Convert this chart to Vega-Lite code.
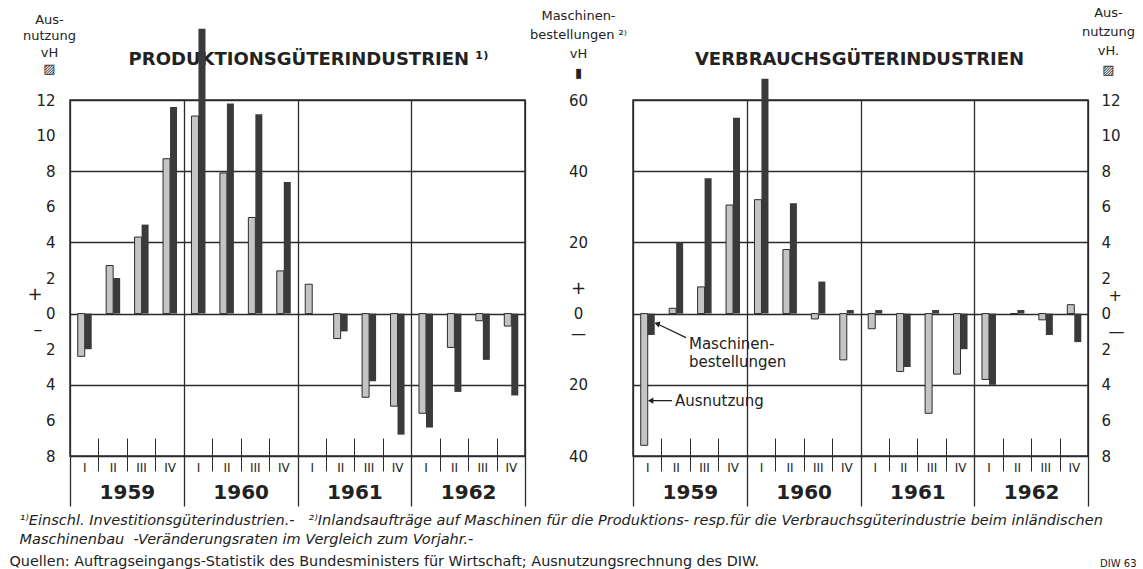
{
  "$schema": "https://vega.github.io/schema/vega-lite/v6.json",
  "background": "#ffffff",
  "padding": {"left": 8, "top": 5, "right": 0, "bottom": 0},
  "datasets": {
    "prod": [
      {"Zeit": 1959.125, "Ausnutzung": -2.4, "Maschinenbestellungen": -10},
      {"Zeit": 1959.375, "Ausnutzung": 2.7, "Maschinenbestellungen": 10},
      {"Zeit": 1959.625, "Ausnutzung": 4.3, "Maschinenbestellungen": 25},
      {"Zeit": 1959.875, "Ausnutzung": 8.7, "Maschinenbestellungen": 58},
      {"Zeit": 1960.125, "Ausnutzung": 11.1, "Maschinenbestellungen": 80},
      {"Zeit": 1960.375, "Ausnutzung": 7.9, "Maschinenbestellungen": 59},
      {"Zeit": 1960.625, "Ausnutzung": 5.4, "Maschinenbestellungen": 56},
      {"Zeit": 1960.875, "Ausnutzung": 2.4, "Maschinenbestellungen": 37},
      {"Zeit": 1961.125, "Ausnutzung": 1.65, "Maschinenbestellungen": 0},
      {"Zeit": 1961.375, "Ausnutzung": -1.4, "Maschinenbestellungen": -5},
      {"Zeit": 1961.625, "Ausnutzung": -4.7, "Maschinenbestellungen": -19},
      {"Zeit": 1961.875, "Ausnutzung": -5.2, "Maschinenbestellungen": -34},
      {"Zeit": 1962.125, "Ausnutzung": -5.6, "Maschinenbestellungen": -32},
      {"Zeit": 1962.375, "Ausnutzung": -1.9, "Maschinenbestellungen": -22},
      {"Zeit": 1962.625, "Ausnutzung": -0.4, "Maschinenbestellungen": -13},
      {"Zeit": 1962.875, "Ausnutzung": -0.7, "Maschinenbestellungen": -23}
    ],
    "verb": [
      {"Zeit": 1959.125, "Ausnutzung": -7.4, "Maschinenbestellungen": -6},
      {"Zeit": 1959.375, "Ausnutzung": 0.3, "Maschinenbestellungen": 20},
      {"Zeit": 1959.625, "Ausnutzung": 1.5, "Maschinenbestellungen": 38},
      {"Zeit": 1959.875, "Ausnutzung": 6.1, "Maschinenbestellungen": 55},
      {"Zeit": 1960.125, "Ausnutzung": 6.4, "Maschinenbestellungen": 66},
      {"Zeit": 1960.375, "Ausnutzung": 3.6, "Maschinenbestellungen": 31},
      {"Zeit": 1960.625, "Ausnutzung": -0.3, "Maschinenbestellungen": 9},
      {"Zeit": 1960.875, "Ausnutzung": -2.6, "Maschinenbestellungen": 1},
      {"Zeit": 1961.125, "Ausnutzung": -0.85, "Maschinenbestellungen": 1},
      {"Zeit": 1961.375, "Ausnutzung": -3.25, "Maschinenbestellungen": -15},
      {"Zeit": 1961.625, "Ausnutzung": -5.6, "Maschinenbestellungen": 1},
      {"Zeit": 1961.875, "Ausnutzung": -3.4, "Maschinenbestellungen": -10},
      {"Zeit": 1962.125, "Ausnutzung": -3.7, "Maschinenbestellungen": -20},
      {"Zeit": 1962.375, "Ausnutzung": 0, "Maschinenbestellungen": 1},
      {"Zeit": 1962.625, "Ausnutzung": -0.35, "Maschinenbestellungen": -6},
      {"Zeit": 1962.875, "Ausnutzung": 0.5, "Maschinenbestellungen": -8}
    ]
  },
  "spacing": 108,
  "bounds": "flush",
  "hconcat": [
    {
      "width": 455,
      "height": 356,
      "data": {"name": "prod"},
      "layer": [
        {
          "mark": {"type": "bar", "width": 7, "xOffset": -3, "fill": "#c4c4c4", "stroke": "#2b2b2b", "strokeWidth": 1},
          "encoding": {
            "x": {"field": "Zeit", "type": "quantitative", "scale": {"domain": [1959, 1963], "nice": false, "zero": false, "padding": 0},
              "axis": {"orient": "bottom", "values": [1959.125, 1959.375, 1959.625, 1959.875, 1960.125, 1960.375, 1960.625, 1960.875, 1961.125, 1961.375, 1961.625, 1961.875, 1962.125, 1962.375, 1962.625, 1962.875],
                "labelExpr": "['I','II','III','IV'][floor((datum.value % 1) * 4)]", "ticks": false, "tickSize": 0, "domain": false, "grid": false, "labelFontSize": 12, "labelPadding": 6, "labelFlush": false, "labelOverlap": false, "title": null}},
            "y": {"field": "Ausnutzung", "type": "quantitative", "scale": {"domain": [-8, 12], "nice": false, "zero": true},
              "axis": {"orient": "left", "values": [-8, -6, -4, -2, 0, 2, 4, 6, 8, 10, 12, 1.1, -0.9],
                "labelExpr": "datum.value == 1.1 ? '+' : datum.value == -0.9 ? '–' : format(abs(datum.value), 'd')",
                "ticks": false, "tickSize": 0, "domain": false, "grid": true, "gridColor": "#2b2b2b", "gridWidth": 1.3,
                "gridOpacity": {"condition": {"test": "datum.value % 4 === 0", "value": 1}, "value": 0},
                "labelPadding": {"condition": {"test": "datum.value == 1.1 || datum.value == -0.9", "value": 28}, "value": 15},
                "labelFontSize": {"condition": {"test": "datum.value == 1.1 || datum.value == -0.9", "value": 18}, "value": 15},
                "labelOverlap": false, "labelFlush": false,
                "title": ["Aus-", "nutzung", "vH", "▨"], "titleAngle": 0, "titleX": -21, "titleY": -87, "titleAlign": "center", "titleBaseline": "top", "titleFontSize": 13, "titleFontWeight": "normal", "titleLineHeight": 16.5}}
          }
        },
        {
          "mark": {"type": "bar", "width": 7, "xOffset": 4, "fill": "#3a3a3a"},
          "encoding": {
            "x": {"field": "Zeit", "type": "quantitative", "scale": {"domain": [1959, 1963], "nice": false, "zero": false, "padding": 0},
              "axis": {"orient": "bottom", "values": [1959.25, 1959.5, 1959.75, 1960.25, 1960.5, 1960.75, 1961.25, 1961.5, 1961.75, 1962.25, 1962.5, 1962.75],
                "labels": false, "domain": false, "grid": false, "ticks": true, "tickSize": 33, "offset": -18, "tickColor": "#2b2b2b", "tickWidth": 1,
                "title": "PRODUKTIONSGÜTERINDUSTRIEN ¹⁾", "titleX": 238, "titleY": -374, "titleAlign": "center", "titleBaseline": "alphabetic", "titleFontSize": 18, "titleFontWeight": "bold", "titleLimit": 600}},
            "y": {"field": "Maschinenbestellungen", "type": "quantitative", "scale": {"domain": [-40, 60], "nice": false, "zero": true}, "axis": null}
          }
        },
        {
          "mark": {"type": "rule", "strokeOpacity": 0},
          "encoding": {
            "x": {"field": "Zeit", "type": "quantitative", "scale": {"domain": [1959, 1963], "nice": false, "zero": false, "padding": 0},
              "axis": {"orient": "bottom", "values": [1959, 1960, 1961, 1962, 1963], "labels": false, "domain": false, "grid": true, "gridColor": "#2b2b2b", "gridWidth": 1.3, "ticks": true, "tickSize": 50, "tickColor": "#2b2b2b", "tickWidth": 1.3,
                "title": "Quellen: Auftragseingangs-Statistik des Bundesministers für Wirtschaft; Ausnutzungsrechnung des DIW.", "titleX": -61, "titleY": 98, "titleAlign": "left", "titleBaseline": "top", "titleFontSize": 14.4, "titleFontWeight": "normal", "titleLimit": 1200}}
          }
        },
        {
          "mark": {"type": "rule", "strokeOpacity": 0},
          "encoding": {
            "x": {"field": "Zeit", "type": "quantitative", "scale": {"domain": [1959, 1963], "nice": false, "zero": false, "padding": 0},
              "axis": {"orient": "bottom", "values": [1959.5, 1960.5, 1961.5, 1962.5], "labelExpr": "format(floor(datum.value), 'd')", "ticks": false, "tickSize": 0, "domain": false, "grid": false, "labelFontSize": 20, "labelFontWeight": "bold", "labelPadding": 26, "labelFlush": false, "labelOverlap": false,
                "title": ["¹⁾Einschl. Investitionsgüterindustrien.-\u00a0\u00a0\u00a0²⁾Inlandsaufträge auf Maschinen für die Produktions- resp.für die Verbrauchsgüterindustrie beim inländischen", "\u00a0\u00a0Maschinenbau\u00a0\u00a0-Veränderungsraten im Vergleich zum Vorjahr.-"],
                "titleX": -51, "titleY": 57, "titleAlign": "left", "titleBaseline": "top", "titleFontSize": 14.5, "titleFontStyle": "italic", "titleFontWeight": "normal", "titleLineHeight": 19, "titleLimit": 1200}}
          }
        }
      ],
      "resolve": {"scale": {"y": "independent"}, "axis": {"x": "independent", "y": "independent"}}
    },
    {
      "width": 455,
      "height": 356,
      "data": {"name": "verb"},
      "layer": [
        {
          "mark": {"type": "bar", "width": 7, "xOffset": -3, "fill": "#c4c4c4", "stroke": "#2b2b2b", "strokeWidth": 1},
          "encoding": {
            "x": {"field": "Zeit", "type": "quantitative", "scale": {"domain": [1959, 1963], "nice": false, "zero": false, "padding": 0},
              "axis": {"orient": "bottom", "values": [1959.125, 1959.375, 1959.625, 1959.875, 1960.125, 1960.375, 1960.625, 1960.875, 1961.125, 1961.375, 1961.625, 1961.875, 1962.125, 1962.375, 1962.625, 1962.875],
                "labelExpr": "['I','II','III','IV'][floor((datum.value % 1) * 4)]", "ticks": false, "tickSize": 0, "domain": false, "grid": false, "labelFontSize": 12, "labelPadding": 6, "labelFlush": false, "labelOverlap": false, "title": null}},
            "y": {"field": "Ausnutzung", "type": "quantitative", "scale": {"domain": [-8, 12], "nice": false, "zero": true},
              "axis": {"orient": "right", "values": [-8, -6, -4, -2, 0, 2, 4, 6, 8, 10, 12, 1.0, -1.0],
                "labelExpr": "datum.value == 1 ? '+' : datum.value == -1 ? '—' : format(abs(datum.value), 'd')",
                "ticks": false, "tickSize": 0, "domain": false, "grid": true, "gridColor": "#2b2b2b", "gridWidth": 1.3,
                "gridOpacity": {"condition": {"test": "datum.value % 4 === 0", "value": 1}, "value": 0},
                "labelPadding": {"condition": {"test": "datum.value == 1 || datum.value == -1", "value": 20}, "value": 13},
                "labelFontSize": {"condition": {"test": "datum.value == 1 || datum.value == -1", "value": 16}, "value": 15},
                "labelAlign": "left", "labelOverlap": false, "labelFlush": false,
                "title": ["Aus-", "nutzung", "vH.", "▨"], "titleAngle": 0, "titleX": 20, "titleY": -94, "titleAlign": "center", "titleBaseline": "top", "titleFontSize": 13, "titleFontWeight": "normal", "titleLineHeight": 19}}
          }
        },
        {
          "data": {"values": [{}]},
          "mark": {"type": "text", "align": "left", "baseline": "top", "fontSize": 15, "lineHeight": 18, "font": "DejaVu Sans", "color": "#222222"},
          "encoding": {
            "x": {"datum": 1959.492, "type": "quantitative", "axis": null},
            "y": {"datum": -1.29, "type": "quantitative", "scale": {"domain": [-8, 12], "nice": false, "zero": true}, "axis": null},
            "text": {"value": ["Maschinen-", "bestellungen"]}
          }
        },
        {
          "data": {"values": [{}]},
          "mark": {"type": "text", "align": "left", "baseline": "middle", "fontSize": 15, "font": "DejaVu Sans", "color": "#222222"},
          "encoding": {
            "x": {"datum": 1959.369, "type": "quantitative", "axis": null},
            "y": {"datum": -4.89, "type": "quantitative", "scale": {"domain": [-8, 12], "nice": false, "zero": true}, "axis": null},
            "text": {"value": "Ausnutzung"}
          }
        },
        {
          "data": {"values": [{}]},
          "mark": {"type": "rule", "stroke": "#222222", "strokeWidth": 1.3},
          "encoding": {
            "x": {"datum": 1959.466, "type": "quantitative", "axis": null},
            "x2": {"datum": 1959.22},
            "y": {"datum": -1.35, "type": "quantitative", "scale": {"domain": [-8, 12], "nice": false, "zero": true}, "axis": null},
            "y2": {"datum": -0.6}
          }
        },
        {
          "data": {"values": [{}]},
          "mark": {"type": "rule", "stroke": "#222222", "strokeWidth": 1.3},
          "encoding": {
            "x": {"datum": 1959.343, "type": "quantitative", "axis": null},
            "x2": {"datum": 1959.17},
            "y": {"datum": -4.89, "type": "quantitative", "scale": {"domain": [-8, 12], "nice": false, "zero": true}, "axis": null}
          }
        },
        {
          "data": {"values": [{}]},
          "mark": {"type": "point", "shape": "triangle-up", "filled": true, "color": "#222222", "opacity": 1, "size": 40, "angle": 288},
          "encoding": {
            "x": {"datum": 1959.211, "type": "quantitative", "axis": null},
            "y": {"datum": -0.56, "type": "quantitative", "scale": {"domain": [-8, 12], "nice": false, "zero": true}, "axis": null}
          }
        },
        {
          "data": {"values": [{}]},
          "mark": {"type": "point", "shape": "triangle-left", "filled": true, "color": "#222222", "opacity": 1, "size": 40},
          "encoding": {
            "x": {"datum": 1959.155, "type": "quantitative", "axis": null},
            "y": {"datum": -4.89, "type": "quantitative", "scale": {"domain": [-8, 12], "nice": false, "zero": true}, "axis": null}
          }
        },
        {
          "mark": {"type": "bar", "width": 7, "xOffset": 4, "fill": "#3a3a3a"},
          "encoding": {
            "x": {"field": "Zeit", "type": "quantitative", "scale": {"domain": [1959, 1963], "nice": false, "zero": false, "padding": 0},
              "axis": {"orient": "bottom", "values": [1959.25, 1959.5, 1959.75, 1960.25, 1960.5, 1960.75, 1961.25, 1961.5, 1961.75, 1962.25, 1962.5, 1962.75],
                "labels": false, "domain": false, "grid": false, "ticks": true, "tickSize": 33, "offset": -18, "tickColor": "#2b2b2b", "tickWidth": 1,
                "title": "VERBRAUCHSGÜTERINDUSTRIEN", "titleX": 226, "titleY": -374, "titleAlign": "center", "titleBaseline": "alphabetic", "titleFontSize": 18, "titleFontWeight": "bold", "titleLimit": 600}},
            "y": {"field": "Maschinenbestellungen", "type": "quantitative", "scale": {"domain": [-40, 60], "nice": false, "zero": true},
              "axis": {"orient": "left", "values": [-40, -20, 0, 20, 40, 60, 7, -5.5],
                "labelExpr": "datum.value == 7 ? '+' : datum.value == -5.5 ? '—' : format(abs(datum.value), 'd')",
                "ticks": false, "tickSize": 0, "domain": false, "grid": false, "labelAlign": "center", "labelPadding": 55,
                "labelFontSize": {"condition": {"test": "datum.value == 7", "value": 18}, "value": 15},
                "labelOverlap": false, "labelFlush": false,
                "title": ["Maschinen-", "bestellungen ²⁾", "vH", "▮"], "titleAngle": 0, "titleX": -55, "titleY": -91, "titleAlign": "center", "titleBaseline": "top", "titleFontSize": 13, "titleFontWeight": "normal", "titleLineHeight": 19}}
          }
        },
        {
          "mark": {"type": "rule", "strokeOpacity": 0},
          "encoding": {
            "x": {"field": "Zeit", "type": "quantitative", "scale": {"domain": [1959, 1963], "nice": false, "zero": false, "padding": 0},
              "axis": {"orient": "bottom", "values": [1959, 1960, 1961, 1962, 1963], "labels": false, "domain": false, "grid": true, "gridColor": "#2b2b2b", "gridWidth": 1.3, "ticks": true, "tickSize": 50, "tickColor": "#2b2b2b", "tickWidth": 1.3, "title": null}}
          }
        },
        {
          "mark": {"type": "rule", "strokeOpacity": 0},
          "encoding": {
            "x": {"field": "Zeit", "type": "quantitative", "scale": {"domain": [1959, 1963], "nice": false, "zero": false, "padding": 0},
              "axis": {"orient": "bottom", "values": [1959.5, 1960.5, 1961.5, 1962.5], "labelExpr": "format(floor(datum.value), 'd')", "ticks": false, "tickSize": 0, "domain": false, "grid": false, "labelFontSize": 20, "labelFontWeight": "bold", "labelPadding": 26, "labelFlush": false, "labelOverlap": false,
                "title": "DIW 63", "titleX": 503, "titleY": 102, "titleAlign": "right", "titleBaseline": "top", "titleFontSize": 10, "titleFontWeight": "normal"}}
          }
        }
      ],
      "resolve": {"scale": {"y": "independent"}, "axis": {"x": "independent", "y": "independent"}}
    }
  ],
  "config": {
    "view": {"stroke": "#2b2b2b", "strokeWidth": 1.5},
    "axis": {"labelFont": "DejaVu Sans", "titleFont": "DejaVu Sans", "labelColor": "#222222", "titleColor": "#222222", "labelOverlap": false, "labelFlush": false},
    "title": {"font": "DejaVu Sans", "color": "#222222"}
  }
}
